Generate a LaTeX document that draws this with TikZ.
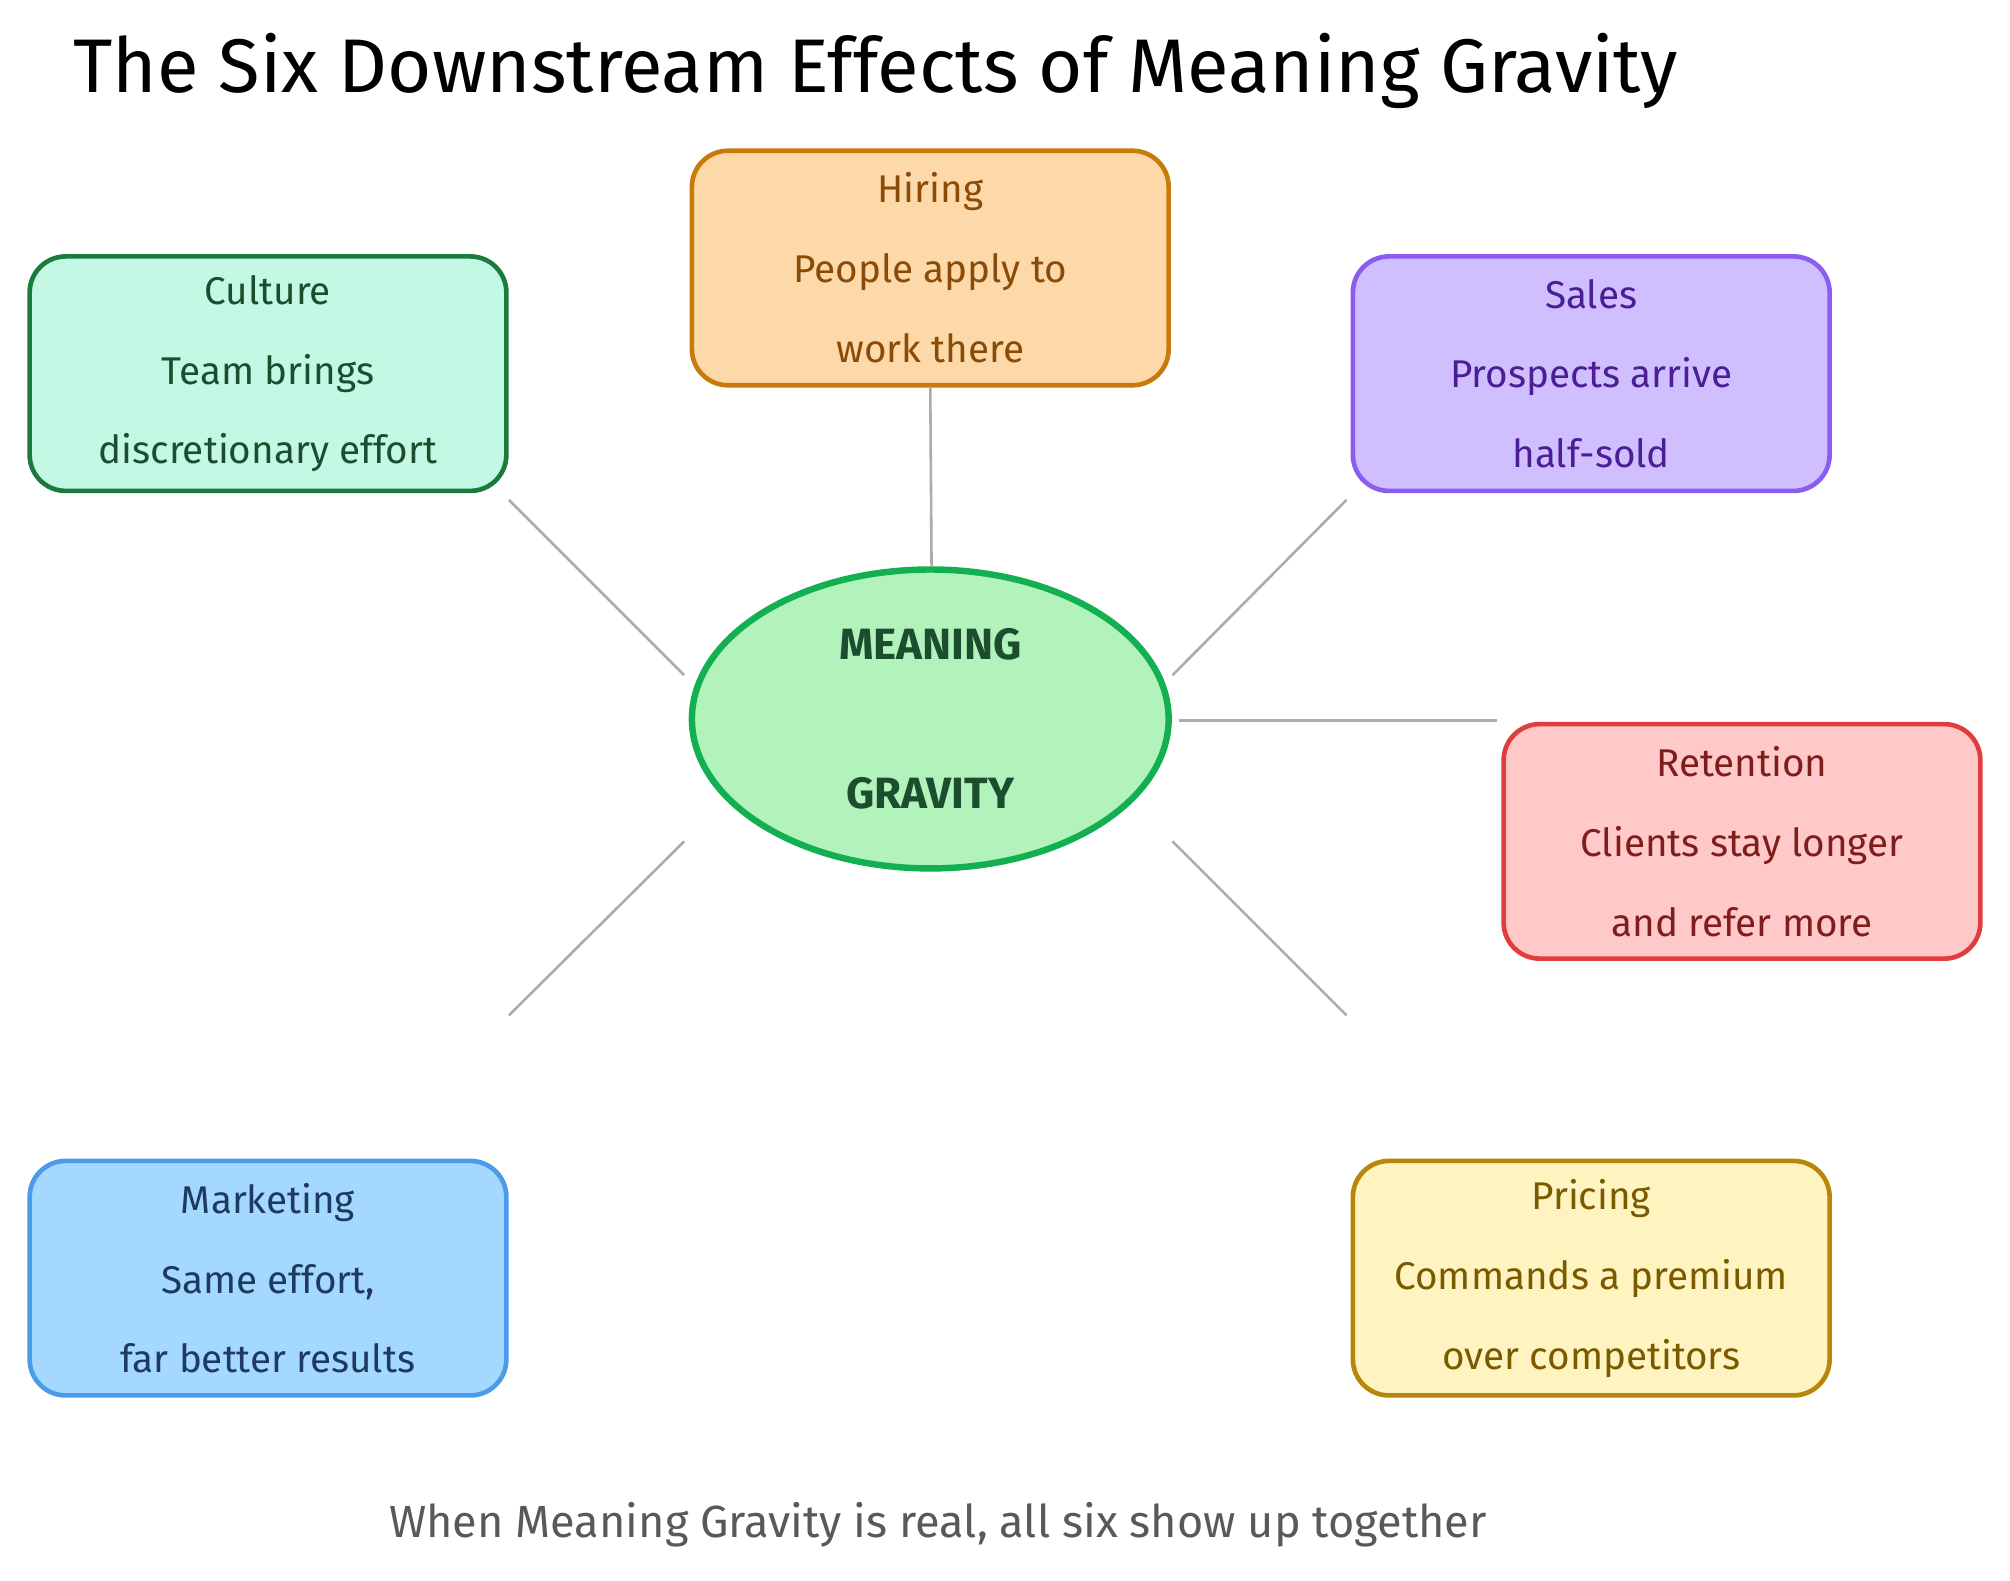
\documentclass[tikz,border=0pt]{standalone}
\usepackage{fontspec}
\setmainfont{Fira Sans}
\usetikzlibrary{shapes.geometric}
\definecolor{cuF}{HTML}{C3F8E5}\definecolor{cuD}{HTML}{1B7A3E}\definecolor{cuT}{HTML}{1B4D2E}
\definecolor{hiF}{HTML}{FDD8A8}\definecolor{hiD}{HTML}{C77B0A}\definecolor{hiT}{HTML}{8A4B08}
\definecolor{saF}{HTML}{D0BFFF}\definecolor{saD}{HTML}{8C5CF0}\definecolor{saT}{HTML}{4C1D95}
\definecolor{reF}{HTML}{FFC9C9}\definecolor{reD}{HTML}{E03E3E}\definecolor{reT}{HTML}{7F1D1D}
\definecolor{maF}{HTML}{A5D8FF}\definecolor{maD}{HTML}{4A9BE8}\definecolor{maT}{HTML}{1E3A5F}
\definecolor{prF}{HTML}{FFF3BF}\definecolor{prD}{HTML}{B8860B}\definecolor{prT}{HTML}{7A5A00}
\definecolor{ceF}{HTML}{B2F2BB}\definecolor{ceD}{HTML}{12B050}
\begin{document}
\begin{tikzpicture}[x=0.5pt,y=-0.5pt,
  card/.style={draw,line width=1.8pt,rounded corners=14pt,minimum width=185pt,minimum height=91pt,align=center,font=\fontsize{15}{31}\selectfont},
  link/.style={draw=gray!65,line width=1pt}]
\useasboundingbox (0,0) rectangle (1560,1227);
\fill[white] (0,0) rectangle (1560,1227);
\node[anchor=base west,font=\fontsize{29.5}{32}\selectfont] (title) at (50,72) {The Six Downstream Effects of Meaning Gravity};
\node[ellipse,draw=ceD,fill=ceF,line width=2.5pt,minimum width=185pt,minimum height=116pt,align=center,text=cuT,font=\bfseries\fontsize{17}{58}\selectfont] (c) at (722,558) {MEANING\\GRAVITY};
\node[card,fill=hiF,draw=hiD,text=hiT] (hi) at (722,208) {Hiring\\People apply to\\work there};
\node[card,fill=cuF,draw=cuD,text=cuT] (cu) at (208,290) {Culture\\Team brings\\discretionary effort};
\node[card,fill=saF,draw=saD,text=saT] (sa) at (1235,290) {Sales\\Prospects arrive\\half-sold};
\node[card,fill=reF,draw=reD,text=reT] (re) at (1352,653) {Retention\\Clients stay longer\\and refer more};
\node[card,fill=maF,draw=maD,text=maT] (ma) at (208,992) {Marketing\\Same effort,\\far better results};
\node[card,fill=prF,draw=prD,text=prT] (pr) at (1235,992) {Pricing\\Commands a premium\\over competitors};
\coordinate (a1) at (723,440); \coordinate (b1) at (722,300);
\coordinate (a2) at (531,524); \coordinate (b2) at (395,388);
\coordinate (a3) at (910,524); \coordinate (b3) at (1045,388);
\coordinate (a4) at (915,559); \coordinate (b4) at (1162,559);
\coordinate (a5) at (531,653); \coordinate (b5) at (395,788);
\coordinate (a6) at (910,653); \coordinate (b6) at (1045,788);
\foreach \i in {1,...,6}{\draw[link] (a\i) -- (b\i);}
\node[anchor=base,text=black!65,font=\fontsize{17.5}{20}\selectfont] (foot) at (728,1193) {When Meaning Gravity is real, all six show up together};
\end{tikzpicture}
\end{document}
